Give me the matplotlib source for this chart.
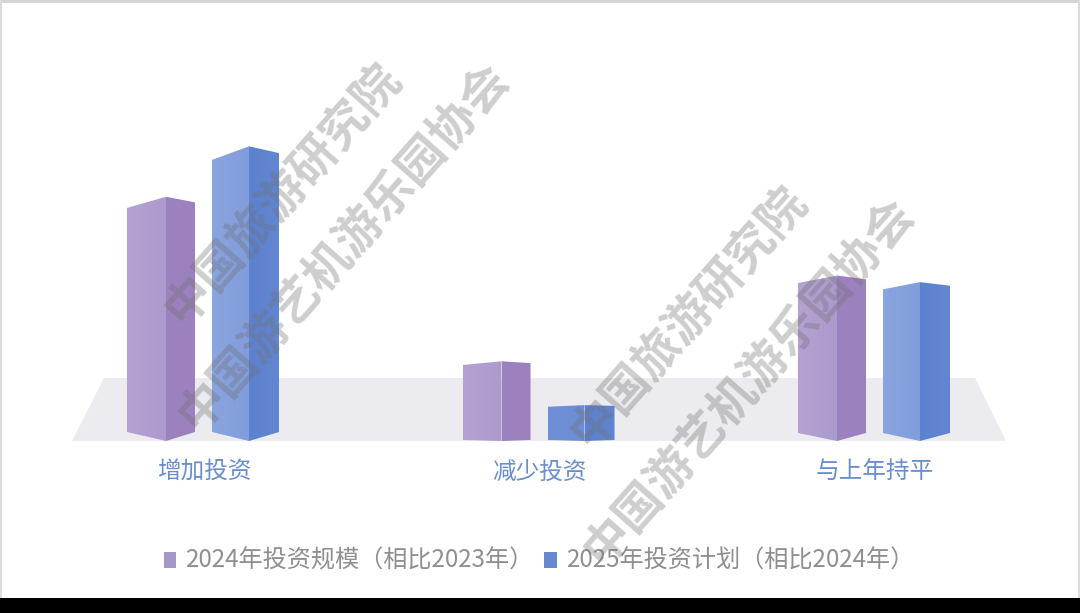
import numpy as np
import matplotlib
matplotlib.use("Agg")
import matplotlib.pyplot as plt
from matplotlib.colors import LinearSegmentedColormap
from matplotlib.patches import Polygon, Rectangle

plt.rcParams['font.family'] = ['Noto Sans CJK SC', 'DejaVu Sans']

# data (the chart prints no numbers, shares sum to about 100)
categories = ["增加投资", "减少投资", "与上年持平"]
values_2024 = [49.9, 16.7, 33.4]
values_2025 = [60.6, 7.4, 32.0]
series_names = ["2024年投资规模（相比2023年）", "2025年投资计划（相比2024年）"]
watermarks = ["中国旅游研究院", "中国游艺机游乐园协会", "中国旅游研究院", "中国游艺机游乐园协会"]

W, H = 1080, 613
GROUP_STEP = 335.5      # px between groups
PX_PER_UNIT = 4.49      # px per value unit
bottom_drop = [9, 1, 8]  # how far the front edge hangs below the side corners, per group

fig = plt.figure(figsize=(W / 100, H / 100), dpi=100, facecolor="black")

# background in pixel coordinates
bg = fig.add_axes([0, 0, 1, 1])
bg.set_xlim(0, W)
bg.set_ylim(H, 0)
bg.axis("off")
bg.add_patch(Rectangle((0, 0), W, 598, fc="white", ec="none"))
bg.add_patch(Rectangle((0, 0), W, 2.5, fc="#d4d4d4", ec="none"))
bg.add_patch(Rectangle((0, 0), 2, 598, fc="#dcdcdc", ec="none"))
bg.add_patch(Rectangle((W - 2, 0), 2, 598, fc="#dcdcdc", ec="none"))
bg.add_patch(Polygon([(104, 378), (975, 378), (1006, 441), (72, 441)], fc="#ebebf0", ec="none"))

# bars in value coordinates, category index on x
ax = fig.add_axes([0, 0, 1, 1])
ax.patch.set_alpha(0)
xlim = (-204 / GROUP_STEP, (W - 204) / GROUP_STEP)
ylim = ((441 - H) / PX_PER_UNIT, 441 / PX_PER_UNIT)
ax.axis("off")


def gradient_face(pts, c0, c1):
    cmap = LinearSegmentedColormap.from_list("face", [c0, c1])
    xs = [p[0] for p in pts]
    ys = [p[1] for p in pts]
    im = ax.imshow(np.linspace(0, 1, 64).reshape(1, -1), cmap=cmap, aspect="auto",
                   extent=(min(xs), max(xs), min(ys), max(ys)), interpolation="bilinear", zorder=2)
    poly = Polygon(pts, closed=True, transform=ax.transData, fc="none", ec="none")
    ax.add_patch(poly)
    im.set_clip_path(poly)


def draw_bar(group, value, x_px, left_cols, right_cols):
    xl, xm, xr = [group + x / GROUP_STEP for x in x_px]
    drop = bottom_drop[group] / PX_PER_UNIT
    rise = value * 0.05
    base = drop          # height of the side corners above the front bottom tip
    top = base + value
    left = [(xl, base), (xm, 0), (xm, top + rise), (xl, top)]
    right = [(xm, 0), (xr, base), (xr, top + rise * 0.5), (xm, top + rise)]
    gradient_face(left, *left_cols)
    gradient_face(right, *right_cols)


purple = (("#b4a2d2", "#ac9acd"), ("#9d82c0", "#9b81bd"))
blue = (("#8aa4df", "#819ddb"), ("#5c81ce", "#6386d1"))
blue_small = (("#6f90d6", "#6c8dd5"), ("#5c81ce", "#6085d0"))

for i in range(len(categories)):
    draw_bar(i, values_2024[i], (-77, -38, -9), *purple)
    draw_bar(i, values_2025[i], (8, 45, 75), *(blue_small if values_2025[i] < 10 else blue))

ax.set_xlim(*xlim)
ax.set_ylim(*ylim)

# category labels
for i, name in enumerate(categories):
    fig.text((204 + i * GROUP_STEP) / W, 1 - 472.5 / H, name, color="#6a8ecb", fontsize=17,
             ha="center", va="center")

# legend
bg.add_patch(Rectangle((164, 552), 12, 16, fc="#a796ca", ec="none"))
bg.add_patch(Rectangle((544, 552), 13, 16, fc="#6489d3", ec="none"))
fig.text(185 / W, 1 - 561 / H, series_names[0], color="#8f8f8f", fontsize=17.4, ha="left", va="center")
fig.text(566 / W, 1 - 561 / H, series_names[1], color="#8f8f8f", fontsize=17.4, ha="left", va="center")

# watermarks
centers = [(283, 193), (344, 246), (689, 316), (749, 381)]
for (cx, cy), txt in zip(centers, watermarks):
    fig.text(cx / W, 1 - cy / H, txt, color="#707070", alpha=0.34, fontsize=34, rotation=48.5,
             fontweight="bold", rotation_mode="anchor", ha="center", va="center", zorder=10)

fig.savefig("out.png", dpi=100, facecolor=fig.get_facecolor())
